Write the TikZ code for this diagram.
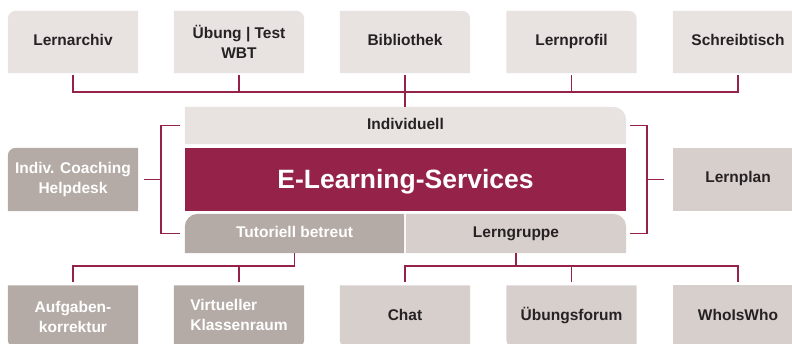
\documentclass[tikz,border=0pt]{standalone}
\usepackage{fontspec}
\setmainfont{Liberation Sans}
\usetikzlibrary{backgrounds}
\definecolor{lightc}{HTML}{E8E3E0}
\definecolor{midc}{HTML}{D7CFCC}
\definecolor{taupe}{HTML}{B5ABA6}
\definecolor{wine}{HTML}{952248}
\definecolor{txt}{HTML}{262223}
\newcommand\boxTL[3]{\fill[#1] (#2.south west) -- ([yshift=-#3]#2.north west) arc[start angle=180,end angle=90,radius=#3] -- (#2.north east) -- (#2.south east) -- cycle;}
\newcommand\boxTR[3]{\fill[#1] (#2.south west) -- (#2.north west) -- ([xshift=-#3]#2.north east) arc[start angle=90,end angle=0,radius=#3] -- (#2.south east) -- cycle;}
\newcommand\boxBL[3]{\fill[#1] (#2.north west) -- (#2.north east) -- (#2.south east) -- ([xshift=#3]#2.south west) arc[start angle=270,end angle=180,radius=#3] -- cycle;}
\newcommand\boxBR[3]{\fill[#1] (#2.north west) -- (#2.north east) -- ([yshift=#3]#2.south east) arc[start angle=0,end angle=-90,radius=#3] -- (#2.south west) -- cycle;}
\newcommand\boxPL[2]{\fill[#1] (#2.south west) rectangle (#2.north east);}
\tikzset{
  lbl/.style={inner sep=0pt, align=center, font=\bfseries\fontsize{15.5}{20}\selectfont, text=txt},
  one/.style={text height=11.2pt, text depth=4pt},
  sbox/.style={lbl, minimum width=130pt, minimum height=62pt},
  wtext/.style={text=white},
  conn/.style={draw=wine, line width=1.6pt},
}
\begin{document}
\begin{tikzpicture}[x=1pt,y=-1pt]
\useasboundingbox (0,0) rectangle (792,344);
\clip (0,0) rectangle (792,344);
% top row
\node[sbox, one] (n1) at (73,42) {Lernarchiv};
\node[sbox] (n2) at (239,42) {Übung | Test\\WBT};
\node[sbox, one] (n3) at (405,42) {Bibliothek};
\node[sbox, one] (n4) at (571.5,42) {Lernprofil};
\node[sbox, one] (n5) at (738,42) {Schreibtisch};
% middle
\node[lbl, one, minimum width=441pt, minimum height=37pt] (indiv) at (405.5,125.5) {Individuell};
\node[lbl, wtext, text height=19pt, text depth=0pt, minimum width=441pt, minimum height=63pt, font=\bfseries\fontsize{26.5}{30}\selectfont] (els) at (405.5,179.5) {E-Learning-Services};
\node[lbl, one, wtext, minimum width=219pt, minimum height=39pt] (tut) at (294.5,233.5) {Tutoriell betreut};
\node[lbl, one, minimum width=220pt, minimum height=39pt] (lerng) at (516,233.5) {Lerngruppe};
\node[sbox, wtext, minimum height=63pt] (coach) at (73,179.5) {Indiv. Coaching\\Helpdesk};
\node[sbox, one, text depth=6pt, minimum height=63pt] (plan) at (738,179.5) {Lernplan};
% bottom row
\node[sbox, wtext] (b1) at (73,316.5) {Aufgaben-\\korrektur};
\node[sbox, wtext] (b2) at (239,316.5) {\begin{tabular}{@{}l@{}}Virtueller\\Klassenraum\end{tabular}};
\node[sbox, one] (b3) at (405,316.5) {Chat};
\node[sbox, one] (b4) at (571.5,316.5) {Übungsforum};
\node[sbox, one] (b5) at (738,316.5) {WhoIsWho};
\begin{scope}[on background layer]
\boxTL{lightc}{n1}{8pt}
\boxTR{lightc}{n2}{8pt}
\boxTR{lightc}{n3}{8pt}
\boxTR{lightc}{n4}{8pt}
\boxTR{lightc}{n5}{8pt}
\boxTR{lightc}{indiv}{13pt}
\boxPL{wine}{els}
\boxTL{taupe}{tut}{13pt}
\boxTR{midc}{lerng}{13pt}
\boxTL{taupe}{coach}{8pt}
\boxPL{midc}{plan}
\boxBL{taupe}{b1}{8pt}
\boxBR{taupe}{b2}{8pt}
\boxBL{midc}{b3}{8pt}
\boxBL{midc}{b4}{8pt}
\boxPL{midc}{b5}
\end{scope}
% connectors
\coordinate (busT) at (0,92);
\coordinate (busB) at (0,266);
\draw[conn, shorten <=2pt] (n1.south) -- (n1.south |- busT) -| ([yshift=-2pt]n5.south);
\draw[conn, shorten <=2pt] (n2.south) -- (n2.south |- busT);
\draw[conn, shorten <=2pt] (n4.south) -- (n4.south |- busT);
\draw[conn, shorten <=2pt] (n3.south) -- (n3.south |- indiv.north);
% left bracket
\coordinate (lb) at (161,0);
\draw[conn] ([xshift=-5pt]indiv.west) -- (lb |- indiv.west) -- (lb |- tut.west) -- ([xshift=-5pt]tut.west);
\draw[conn] ([xshift=6pt]coach.east) -- (lb |- coach.east);
% right bracket
\coordinate (rb) at (647,0);
\draw[conn] ([xshift=4pt]indiv.east) -- (rb |- indiv.east) -- (rb |- lerng.east) -- ([xshift=4pt]lerng.east);
\draw[conn] ([xshift=-9pt]plan.west) -- (rb |- plan.west);
% bottom connectors
\draw[conn] (tut.south) -- (tut.south |- busB) -| ([yshift=3pt]b1.north);
\draw[conn, shorten <=3pt] (b2.north) -- (b2.north |- busB);
\draw[conn] (lerng.south) -- (lerng.south |- busB);
\draw[conn, shorten <=3pt] (b3.north) -- (b3.north |- busB) -| ([yshift=3pt]b5.north);
\draw[conn, shorten <=3pt] (b4.north) -- (b4.north |- busB);
\end{tikzpicture}
\end{document}
